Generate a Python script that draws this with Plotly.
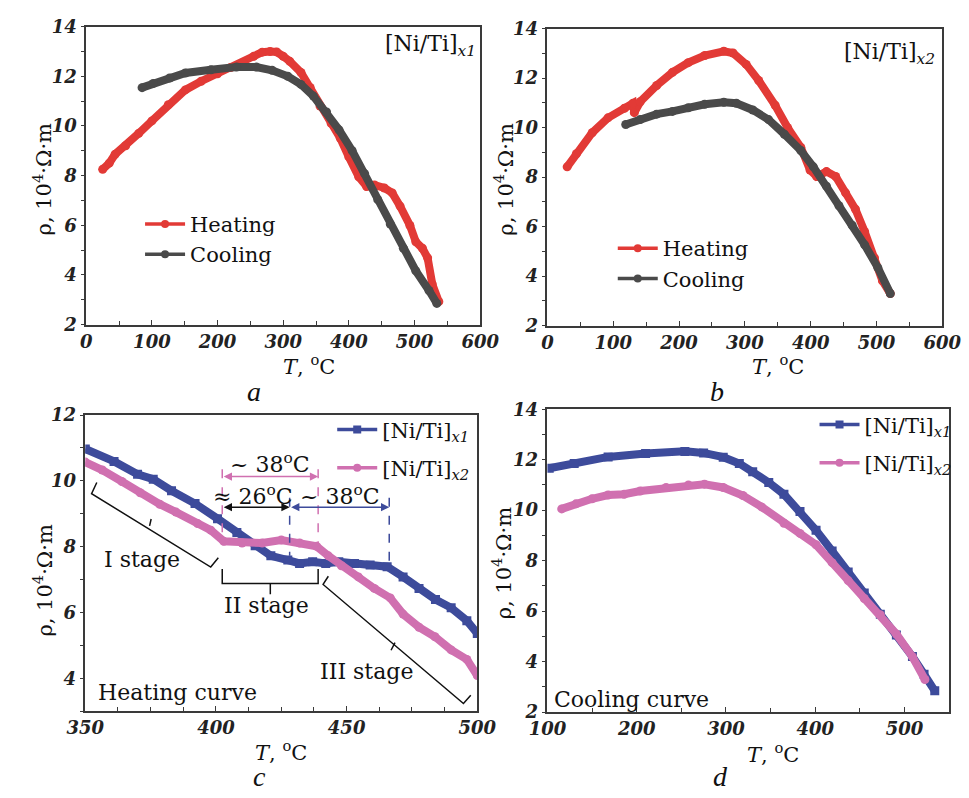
import plotly.graph_objects as go

# ---------------- data ----------------
# panel a: [Ni/Ti]x1
T_a_heat = [25, 35, 44, 60, 80, 100, 125, 151, 175, 200, 220, 239, 255, 268, 280, 290, 300, 310,
            327, 341, 356, 373, 387, 400, 415, 427, 439, 454, 466, 478, 493, 502, 512, 520, 527, 537]
R_a_heat = [8.25, 8.5, 8.86, 9.2, 9.7, 10.2, 10.85, 11.45, 11.8, 12.1, 12.35, 12.55, 12.8, 12.97,
            13.0, 12.98, 12.8, 12.6, 12.15, 11.55, 10.8, 10.1, 9.5, 8.75, 7.95, 7.56, 7.62, 7.5,
            7.3, 6.77, 5.99, 5.33, 5.07, 4.68, 3.63, 2.92]
T_a_cool = [85, 102, 127, 151, 190, 229, 259, 283, 307, 327, 346, 366, 385, 405, 424, 444, 463,
            483, 502, 522, 534]
R_a_cool = [11.54, 11.71, 11.93, 12.13, 12.26, 12.37, 12.37, 12.24, 12.0, 11.67, 11.2, 10.56,
            9.84, 9.0, 8.08, 7.03, 6.05, 5.07, 4.16, 3.37, 2.85]

# panel b: [Ni/Ti]x2
T_b_heat = [30, 44, 68, 92, 117, 130, 132, 141, 166, 190, 214, 239, 268, 282, 302, 321, 346, 365,
            385, 399, 409, 424, 438, 453, 468, 482, 497, 509, 521]
R_b_heat = [8.41, 8.94, 9.79, 10.39, 10.78, 10.98, 10.6, 11.04, 11.7, 12.23, 12.62, 12.91, 13.08,
            13.01, 12.55, 11.9, 10.9, 9.99, 9.2, 8.28, 8.02, 8.22, 8.02, 7.36, 6.7, 5.79, 4.73,
            3.81, 3.29]
T_b_cool = [119, 141, 166, 190, 214, 239, 268, 287, 312, 336, 360, 385, 404, 424, 443, 463, 482,
            502, 521]
R_b_cool = [10.12, 10.32, 10.54, 10.65, 10.8, 10.94, 11.02, 10.98, 10.71, 10.32, 9.73, 9.07, 8.41,
            7.63, 6.84, 6.05, 5.26, 4.34, 3.29]

# panel c: heating curves, 350-500 C
T_c_x1 = [350, 361, 370, 376, 383, 392, 400.6, 408, 415, 421, 427.5, 432, 437, 442, 447, 453, 459,
          465.5, 471.6, 477.7, 484, 490, 496, 500]
R_c_x1 = [10.97, 10.59, 10.2, 10.05, 9.7, 9.31, 8.85, 8.43, 8.03, 7.72, 7.59, 7.49, 7.54, 7.49,
          7.54, 7.49, 7.44, 7.39, 7.08, 6.73, 6.39, 6.14, 5.75, 5.36]
T_c_x2 = [350, 356.5, 364, 371, 378.5, 384.7, 393, 398, 403, 410, 417.7, 425, 432, 438.5, 443, 448,
          454.5, 460.6, 466.7, 471.6, 477.7, 483.8, 490, 496, 500]
R_c_x2 = [10.57, 10.33, 9.98, 9.64, 9.29, 9.05, 8.7, 8.5, 8.16, 8.11, 8.11, 8.2, 8.11, 8.01, 7.72,
          7.42, 7.08, 6.73, 6.44, 5.95, 5.55, 5.26, 4.86, 4.57, 4.08]

# panel d: cooling curves
T_d_x1 = [102, 130, 168, 210, 254, 275, 297, 315, 330, 348, 365, 383, 401, 419, 437, 455, 473, 491,
          509, 522, 534]
R_d_x1 = [11.66, 11.85, 12.11, 12.25, 12.33, 12.27, 12.1, 11.85, 11.52, 11.1, 10.63, 9.95, 9.2,
          8.38, 7.55, 6.72, 5.88, 5.05, 4.2, 3.5, 2.84]
T_d_x2 = [116, 132, 150, 168, 186, 204, 233, 258, 276, 297, 319, 340, 365, 383, 401, 419, 437, 455,
          473, 491, 509, 523]
R_d_x2 = [10.05, 10.25, 10.45, 10.6, 10.63, 10.76, 10.9, 11.0, 11.03, 10.9, 10.58, 10.13, 9.48,
          9.08, 8.63, 7.92, 7.21, 6.5, 5.86, 5.09, 4.19, 3.29]

# tick labels
X_TICKS_AB = [0, 100, 200, 300, 400, 500, 600]
X_TICKS_C = [350, 400, 450, 500]
X_TICKS_D = [100, 200, 300, 400, 500]
Y_TICKS_ABD = [2, 4, 6, 8, 10, 12, 14]
Y_TICKS_C = [4, 6, 8, 10, 12]

RED = "#e23a36"
GRAY = "#4a4a4a"
BLUE = "#3d4b9b"
PINK = "#d070b0"
AXC = "#3a3a3a"
FONT = "DejaVu Serif"
IFONT = "Liberation Serif"

fig = go.Figure()


def curve(x, y, color, xa, ya, symbol="circle"):
    fig.add_trace(go.Scatter(x=x, y=y, mode="lines+markers", xaxis=xa, yaxis=ya,
                             line=dict(color=color, width=8, shape="linear"),
                             marker=dict(color=color, size=9, symbol=symbol),
                             showlegend=False, hoverinfo="skip"))


def legend_item(name, color, legend, group, symbol="circle"):
    fig.add_trace(go.Scatter(x=[None], y=[None], mode="lines+markers", name=name,
                             line=dict(color=color, width=3.5),
                             marker=dict(color=color, size=8, symbol=symbol),
                             legend=legend, legendgroup=group, showlegend=True))


curve(T_a_heat, R_a_heat, RED, "x", "y")
curve(T_a_cool, R_a_cool, GRAY, "x", "y")
curve(T_b_heat, R_b_heat, RED, "x2", "y2")
curve(T_b_cool, R_b_cool, GRAY, "x2", "y2")
curve(T_c_x1, R_c_x1, BLUE, "x3", "y3", "square")
curve(T_c_x2, R_c_x2, PINK, "x3", "y3")
curve(T_d_x1, R_d_x1, BLUE, "x4", "y4", "square")
curve(T_d_x2, R_d_x2, PINK, "x4", "y4")

legend_item("Heating", RED, "legend", "ah")
legend_item("Cooling", GRAY, "legend", "ac")
legend_item("Heating", RED, "legend2", "bh")
legend_item("Cooling", GRAY, "legend2", "bc")
NX1 = "[Ni/Ti]<sub><i>x1</i></sub>"
NX2 = "[Ni/Ti]<sub><i>x2</i></sub>"
legend_item(NX1, BLUE, "legend3", "c1", "square")
legend_item(NX2, PINK, "legend3", "c2")
legend_item(NX1, BLUE, "legend4", "d1", "square")
legend_item(NX2, PINK, "legend4", "d2")

W, H = 969, 798


def px(x):
    return x / W


def py(y):
    return 1 - y / H


tickfont = dict(family=FONT, size=18, color="#222", style="italic", weight="bold")


def it(vals):
    return ["<i>%s</i>" % v for v in vals]


def xaxis(domain, anchor, rng, ticks, minor_dtick, tick0=0):
    return dict(domain=domain, anchor=anchor, range=rng, tickvals=ticks, ticktext=it(ticks),
                showline=True, linecolor=AXC, linewidth=1.5, mirror=True,
                ticks="inside", ticklen=5, tickwidth=1.3, tickcolor=AXC,
                minor=dict(ticks="inside", ticklen=4, tickwidth=1.2, tickcolor=AXC,
                           dtick=minor_dtick, tick0=tick0),
                showgrid=False, zeroline=False, tickfont=tickfont)


def yaxis(domain, anchor, rng, ticks):
    return dict(domain=domain, anchor=anchor, range=rng, tickvals=ticks, ticktext=it(ticks),
                showline=True, linecolor=AXC, linewidth=1.5, mirror=True,
                ticks="outside", ticklen=4, tickwidth=1.3, tickcolor=AXC,
                minor=dict(ticks="outside", ticklen=4, tickwidth=1.2, tickcolor=AXC,
                           dtick=1, tick0=0),
                showgrid=False, zeroline=False, tickfont=tickfont)


legfont = dict(family=FONT, size=21, color="#111")


def leg(x, y, gap=0):
    return dict(x=px(x), y=py(y), xanchor="left", yanchor="top", font=legfont,
                bgcolor="rgba(0,0,0,0)", itemwidth=40, tracegroupgap=gap)


annots = []


def text(x, y, s, size=19, xanchor="center", angle=0, italic=False, family=FONT):
    annots.append(dict(x=px(x), y=py(y), xref="paper", yref="paper", text=s, showarrow=False,
                       xanchor=xanchor, yanchor="middle", textangle=angle,
                       font=dict(family=family, size=size, color="#111",
                                 style="italic" if italic else "normal")))


YT = "ρ, 10<sup>4</sup>·Ω·m"
XT = "<i>T</i>, <sup>o</sup>C"
# axis titles
text(302, 364, XT, size=21)
text(790, 364, XT, size=21)
text(273, 760, XT, size=21)
text(785, 762, XT, size=21)
text(25, 173, YT, size=21, angle=-90)
text(505, 173, YT, size=21, angle=-90)
text(25, 585, YT, size=21, angle=-90)
text(503, 567, YT, size=21, angle=-90)
# panel letters
text(245, 391, "a", size=28, italic=True, family=IFONT)
text(727, 391, "b", size=28, italic=True, family=IFONT)
text(250, 786, "c", size=28, italic=True, family=IFONT)
text(730, 786, "d", size=28, italic=True, family=IFONT)
# sample labels
text(478, 35, NX1, size=22, xanchor="right")
text(955, 44, NX2, size=22, xanchor="right")
text(80, 700, "Heating curve", size=22, xanchor="left")
text(555, 707, "Cooling curve", size=22, xanchor="left")


def dtext(x, y, s, size=22):
    annots.append(dict(x=x, y=y, xref="x3", yref="y3", text=s, showarrow=False,
                       font=dict(family=FONT, size=size, color="#111")))


dtext(371.8, 7.6, "I stage")
dtext(419.5, 6.21, "II stage")
dtext(457.5, 4.2, "III stage")
dtext(420.5, 10.55, "~ 38<sup>o</sup>C")
dtext(414.0, 9.57, "≈ 26<sup>o</sup>C")
dtext(447.5, 9.57, "~ 38<sup>o</sup>C")


def darrow(x0, x1, y, color):
    annots.append(dict(x=x1, y=y, ax=x0, ay=y, xref="x3", yref="y3", axref="x3", ayref="y3",
                       text="", showarrow=True, arrowhead=2, arrowside="end+start",
                       arrowsize=1.1, arrowwidth=1.5, arrowcolor=color))


darrow(402.4, 439.1, 10.13, PINK)
darrow(402.4, 428.2, 9.2, "#111")
darrow(428.2, 466.3, 9.2, BLUE)

shapes = []


def vdash(x, y0, y1, color):
    shapes.append(dict(type="line", xref="x3", yref="y3", x0=x, x1=x, y0=y0, y1=y1,
                       line=dict(color=color, width=1.5, dash="dash")))


vdash(402.4, 10.35, 8.3, PINK)
vdash(439.1, 10.35, 8.0, PINK)
vdash(428.2, 9.49, 7.72, BLUE)
vdash(466.3, 9.49, 7.42, BLUE)


def bracket(path):
    shapes.append(dict(type="path", xref="x3", yref="y3", path=path,
                       line=dict(color="#111", width=1.5)))


# I stage
bracket("M 354.4,9.95 L 352.4,9.61 L 398.0,7.38 L 400.9,7.66 M 374.6,8.63 L 375.2,8.84")
# II stage
bracket("M 402.4,7.32 L 402.4,6.88 L 439.1,6.88 L 439.1,7.32 M 420.8,6.88 L 420.8,6.55")
# III stage
bracket("M 443.0,7.10 L 441.0,6.85 L 494.7,3.23 L 497.5,3.48 M 468.5,5.08 L 467.0,4.85")

fig.update_layout(
    width=W, height=H, margin=dict(l=0, r=0, t=0, b=0),
    paper_bgcolor="white", plot_bgcolor="white",
    xaxis=xaxis([px(70), px(480)], "y", [0, 600], X_TICKS_AB, 50),
    yaxis=yaxis([py(322), py(16)], "x", [2, 14], Y_TICKS_ABD),
    xaxis2=xaxis([px(550), px(961)], "y2", [0, 600], X_TICKS_AB, 50),
    yaxis2=yaxis([py(323), py(18)], "x2", [2, 14], Y_TICKS_ABD),
    xaxis3=xaxis([px(69), px(477)], "y3", [350, 500], X_TICKS_C, 12.5, tick0=350),
    yaxis3=yaxis([py(719), py(415)], "x3", [3, 12], Y_TICKS_C),
    xaxis4=xaxis([px(550), px(968)], "y4", [100, 550], X_TICKS_D, 50),
    yaxis4=yaxis([py(720), py(409)], "x4", [2, 14], Y_TICKS_ABD),
    legend=leg(126, 198),
    legend2=leg(618, 223),
    legend3=leg(326, 409, 8),
    legend4=leg(828, 404, 8),
    annotations=annots,
    shapes=shapes,
)

fig.write_html("out.html")
